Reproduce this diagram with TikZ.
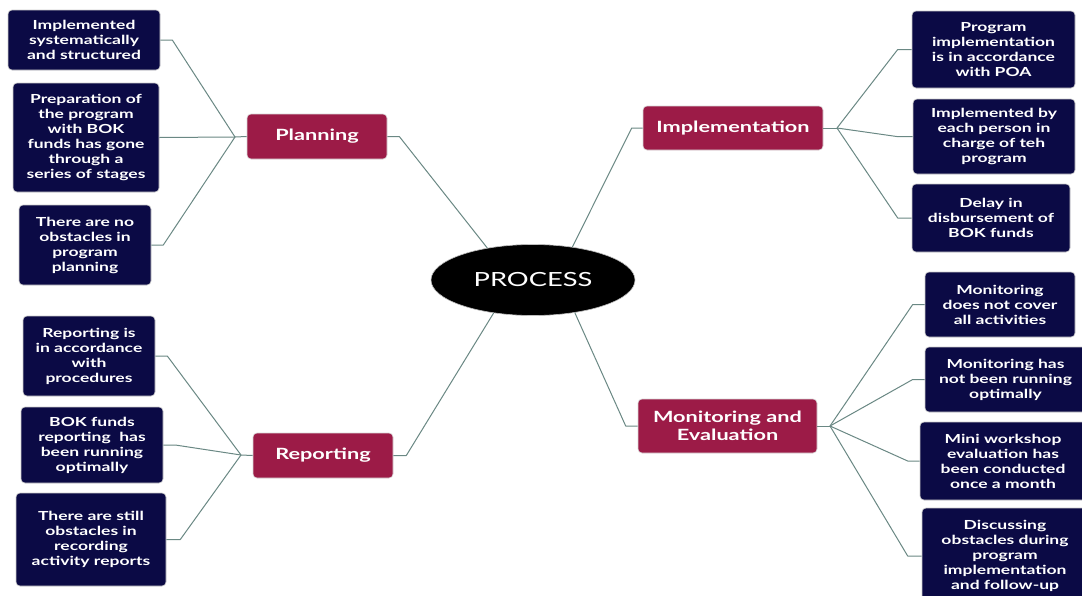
\documentclass[tikz,border=0pt]{standalone}
\usepackage{fontspec}
\setmainfont{Lato}[FakeStretch=1.4]
\usetikzlibrary{shapes.geometric}
\definecolor{navy}{HTML}{0B0A45}
\definecolor{berry}{HTML}{9C1B47}
\definecolor{linkc}{HTML}{6A8884}
\tikzset{
 leaf/.style={fill=navy, draw=gray!40, line width=0.6pt, rounded corners=4pt, text=white,
   font=\bfseries\fontsize{12.5}{15}\selectfont, align=center, inner sep=0pt},
 topic/.style={fill=berry, draw=gray!30, line width=0.6pt, rounded corners=4pt, text=white,
   font=\bfseries\fontsize{15.5}{18}\selectfont, align=center, inner sep=0pt},
 conn/.style={draw=linkc, line width=1pt, line join=round}
}
\begin{document}
\begin{tikzpicture}[x=1pt,y=-1pt]
\useasboundingbox (0,0) rectangle (1082,595);
\fill[white] (0,0) rectangle (1082,595);
\clip (0,0) rectangle (1082,595);

% centre
\node[ellipse, fill=black, draw=gray!50, line width=0.6pt, minimum width=204pt, minimum height=71pt,
  text=white, font=\fontsize{19.5}{22}\selectfont, inner sep=0pt] (PROC) at (533,280) {PROCESS};

% topics
\node[topic, minimum width=140pt, minimum height=45pt] (PL) at (317,136.5) {Planning};
\node[topic, minimum width=180pt, minimum height=44pt] (IM) at (733,128) {Implementation};
\node[topic, minimum width=179pt, minimum height=54pt] (ME) at (727.5,426) {Monitoring and\\Evaluation};
\node[topic, minimum width=140pt, minimum height=45pt] (RE) at (323,455.5) {Reporting};

% planning leaves
\node[leaf, minimum width=152pt, minimum height=60pt] (P1) at (84,40) {Implemented\\systematically\\and structured};
\node[leaf, minimum width=146pt, minimum height=109pt] (P2) at (86,137.5) {Preparation of\\the program\\with BOK\\funds has gone\\through a\\series of stages};
\node[leaf, minimum width=132pt, minimum height=80pt] (P3) at (85,245) {There are no\\obstacles in\\program\\planning};

% implementation leaves
\node[leaf, minimum width=163pt, minimum height=77pt] (I1) at (993.5,49.5) {Program\\implementation\\is in accordance\\with POA};
\node[leaf, minimum width=162pt, minimum height=75pt] (I2) at (994,136.5) {Implemented by\\each person in\\charge of teh\\program};
\node[leaf, minimum width=158pt, minimum height=68pt] (I3) at (991,218) {Delay in\\disbursement of\\BOK funds};

% monitoring leaves
\node[leaf, minimum width=150pt, minimum height=65pt] (M1) at (1000,304.5) {Monitoring\\does not cover\\all activities};
\node[leaf, minimum width=161pt, minimum height=65pt] (M2) at (1005.5,379.5) {Monitoring has\\not been running\\optimally};
\node[leaf, minimum width=166pt, minimum height=78pt] (M3) at (1003,461) {Mini workshop\\evaluation has\\been conducted\\once a month};
\node[leaf, minimum width=166pt, minimum height=96pt] (M4) at (1005,556) {Discussing\\obstacles during\\program\\implementation\\and follow-up};

% reporting leaves
\node[leaf, minimum width=132pt, minimum height=80pt] (R1) at (89,356) {Reporting is\\in accordance\\with\\procedures};
\node[leaf, minimum width=142pt, minimum height=76pt] (R2) at (92,445) {BOK funds\\reporting\ \ has\\been running\\optimally};
\node[leaf, minimum width=150pt, minimum height=93pt] (R3) at (91,539.5) {There are still\\obstacles in\\recording\\activity reports};

% junctions
\coordinate (pj) at (235,137);
\coordinate (ij) at (837,128);
\coordinate (mj) at (830,426);
\coordinate (rj) at (241,455);

% connectors: centre to topics
\draw[conn] (PROC.145) -- ([xshift=12pt]PL.east) -- (PL.east);
\draw[conn] (PROC.40) -- ([xshift=-11pt]IM.west) -- (IM.west);
\draw[conn] (PROC.322) -- ([xshift=-12pt]ME.west) -- (ME.west);
\draw[conn] (PROC.220) -- ([xshift=13pt]RE.east) -- (RE.east);

% planning
\draw[conn] (PL.west) -- (pj);
\draw[conn] (P1.east) -- ++(12,0) -- (pj);
\draw[conn] (P2.east) -- (pj);
\draw[conn] (P3.east) -- ++(12,0) -- (pj);

% implementation
\draw[conn] (IM.east) -- (ij);
\draw[conn] (I1.west) -- ++(-14,0) -- (ij);
\draw[conn] (I2.west) -- ++(-16,0) -- (ij);
\draw[conn] (I3.west) -- ++(-14,0) -- (ij);

% monitoring
\draw[conn] (ME.east) -- (mj);
\draw[conn] (M1.west) -- ++(-12,0) -- (mj);
\draw[conn] (M2.west) -- ++(-12,0) -- (mj);
\draw[conn] (M3.west) -- ++(-12,0) -- (mj);
\draw[conn] (M4.west) -- ++(-14,0) -- (mj);

% reporting
\draw[conn] (RE.west) -- (rj);
\draw[conn] (R1.east) -- ++(12,0) -- (rj);
\draw[conn] (R2.east) -- ++(12,0) -- (rj);
\draw[conn] (R3.east) -- ++(14,0) -- (rj);
\end{tikzpicture}
\end{document}
